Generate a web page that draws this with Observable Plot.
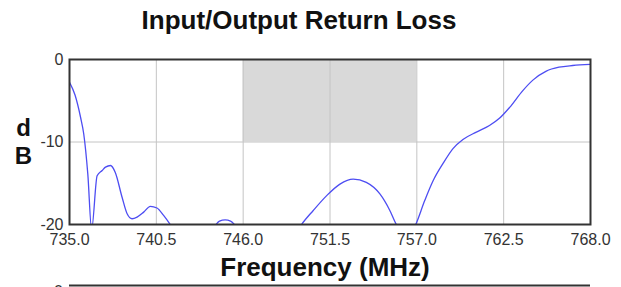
<!DOCTYPE html>
<html>
<head>
<meta charset="utf-8">
<script src="https://cdn.jsdelivr.net/npm/d3@7"></script>
<script src="https://cdn.jsdelivr.net/npm/@observablehq/plot@0.6"></script>
<style>
  html, body { margin: 0; padding: 0; background: white; }
  #chart { width: 621px; height: 287px; overflow: hidden; }
</style>
</head>
<body>
<div id="chart"></div>
<script>
const freq = [735.0, 735.35, 735.7, 735.9, 736.16, 736.4, 736.75, 737.07, 737.28, 737.6, 737.9, 738.33, 738.65, 738.96, 739.28, 739.7, 740.12, 740.54, 740.96, 741.34, 741.7, 742.5, 743.5, 744.2, 744.5, 744.86, 745.2, 745.5, 746.5, 748.0, 749.2, 749.7, 750.44, 751.29, 752.13, 752.97, 753.8, 754.66, 755.29, 755.7, 756.2, 756.6, 756.93, 757.5, 758.03, 758.66, 759.29, 759.92, 760.77, 761.6, 762.25, 762.88, 763.7, 764.35, 765.2, 766.0, 766.87, 768.0];
const returnLoss = [-2.75, -4.3, -7.0, -9.0, -13.9, -20.6, -14.1, -13.45, -13.05, -12.85, -13.7, -16.7, -18.7, -19.3, -19.1, -18.5, -17.8, -18.0, -18.9, -19.9, -21.0, -22.5, -22.0, -20.2, -19.6, -19.45, -19.6, -20.1, -22.5, -24.0, -21.5, -20.0, -18.3, -16.5, -15.1, -14.5, -14.9, -16.3, -18.3, -20.0, -21.5, -21.2, -20.0, -17.1, -14.7, -12.6, -10.8, -9.7, -8.8, -8.0, -7.1, -5.8, -3.8, -2.5, -1.4, -0.93, -0.73, -0.6];
const xTicks = [735.0, 740.5, 746.0, 751.5, 757.0, 762.5, 768.0];
const yTicks = [0, -10, -20];
const passband = [746.0, 757.0];
const passLevel = [-10, 0];
const titleText = "Input/Output Return Loss";
const xLabel = "Frequency (MHz)";
const yLabel = ["d", "B"];

const data = freq.map((f, i) => ({f, rl: returnLoss[i]}));
const band = [{x1: passband[0], x2: passband[1], y1: passLevel[0], y2: passLevel[1]}];
const font = "'Liberation Sans', Arial, sans-serif";

const W = 621, H = 287, mL = 69, mR = 31, mT = 59, mB = 63;

const svg = Plot.plot({
  width: W, height: H,
  marginLeft: mL, marginRight: mR, marginTop: mT, marginBottom: mB,
  style: {fontFamily: font, fontSize: "16px", color: "#333", background: "white", overflow: "visible"},
  x: {domain: [735, 768], ticks: xTicks, tickFormat: d3.format(".1f"), tickSize: 0, tickPadding: 9, label: null},
  y: {domain: [-20, 0], ticks: yTicks, tickFormat: d => String(d), tickSize: 0, tickPadding: 6, label: null},
  marks: [
    Plot.rect(band, {x1: "x1", x2: "x2", y1: "y1", y2: "y2", fill: "#d9d9d9"}),
    Plot.gridX(xTicks, {stroke: "#c4c4c4", strokeOpacity: 1, strokeWidth: 1}),
    Plot.gridY(yTicks, {stroke: "#c4c4c4", strokeOpacity: 1, strokeWidth: 1}),
    Plot.line(data, {x: "f", y: "rl", stroke: "#4d4df2", strokeWidth: 1.3, curve: "monotone-x", clip: true}),
    Plot.frame({stroke: "#333", strokeWidth: 2})
  ]
});

const s = d3.select(svg);
s.append("text").attr("x", 299).attr("y", 29).attr("text-anchor", "middle")
  .attr("font-family", font).attr("font-weight", "bold").attr("font-size", 26).attr("fill", "#111").text(titleText);
s.append("text").attr("x", 325).attr("y", 276).attr("text-anchor", "middle")
  .attr("font-family", font).attr("font-weight", "bold").attr("font-size", 26).attr("fill", "#111").text(xLabel);
yLabel.forEach((ch, i) => {
  s.append("text").attr("x", 23.5).attr("y", 136 + i * 28).attr("text-anchor", "middle")
    .attr("font-family", font).attr("font-weight", "bold").attr("font-size", 24).attr("fill", "#111").text(ch);
});
// top of the next chart, cut off by the bottom edge
s.append("line").attr("x1", mL).attr("x2", W - mR).attr("y1", 285.5).attr("y2", 285.5)
  .attr("stroke", "#333").attr("stroke-width", 2);
s.append("text").attr("x", 63).attr("y", 297).attr("text-anchor", "end")
  .attr("font-family", font).attr("font-size", 16).attr("fill", "#333").text("0");

document.getElementById("chart").appendChild(svg);
</script>
</body>
</html>
